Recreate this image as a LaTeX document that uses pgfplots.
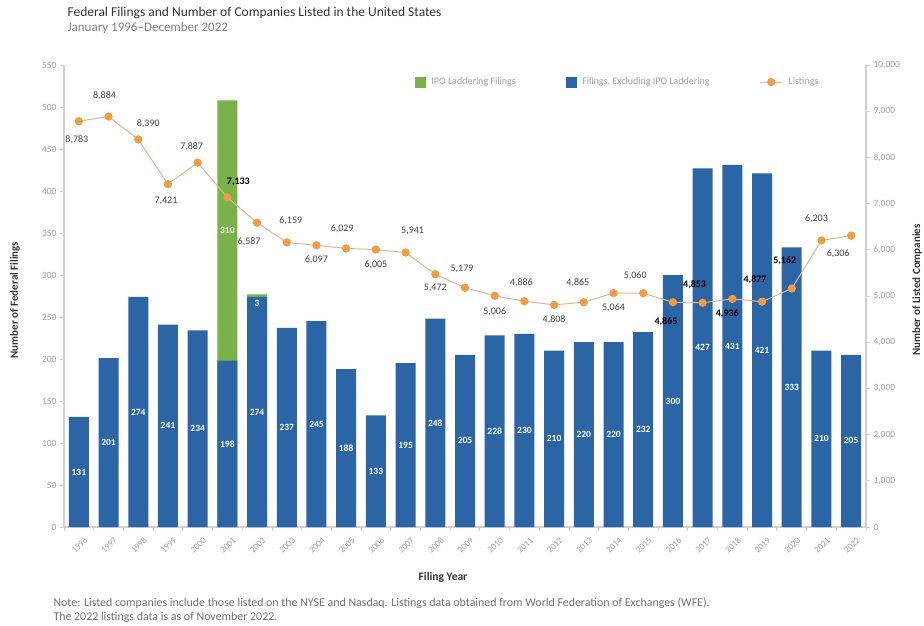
\documentclass[border=0pt]{standalone}
\usepackage{pgfplots}
\pgfplotsset{compat=1.18}
\usepackage{pgfplotstable}
\usepackage{fontspec}
\setmainfont{Carlito}
\definecolor{barblue}{HTML}{2C65A5}
\definecolor{bargreen}{HTML}{7AB24A}
\definecolor{dotorange}{HTML}{F49A42}
\definecolor{linetan}{HTML}{D9B896}
\definecolor{axisgray}{HTML}{D0D0D0}
\definecolor{tickgray}{HTML}{A0A0A0}
\definecolor{labgray}{HTML}{404040}
\definecolor{darktext}{HTML}{333333}

% filings excluding IPO laddering
\pgfplotstableread{
i blue
0 131
1 201
2 274
3 241
4 234
5 198
6 274
7 237
8 245
9 188
10 133
11 195
12 248
13 205
14 228
15 230
16 210
17 220
18 220
19 232
20 300
21 427
22 431
23 421
24 333
25 210
26 205
}\filings

% IPO laddering filings (top = total, g = laddering count)
\pgfplotstableread{
i total g
5 508 310
6 277 3
}\ladder

\pgfplotstableread{
i L dx dy
0 8783 -2 -18
1 8884 -4 21
2 8390 10 16
3 7421 -2 -17
4 7887 -6 16
6 6587 -8 -19
7 6159 4 22
8 6097 0 -14
9 6029 -4 20
10 6005 0 -15
11 5941 7 22
12 5472 0 -14
13 5179 -3 19
14 5006 0 -16
15 4886 -3 19
16 4808 0 -15
17 4865 -6 20
18 5064 0 -15
19 5060 -8 17
25 6203 -5 22
26 6306 -13 -18
}\lblnormal

\pgfplotstableread{
i L dx dy
5 7133 11 16
20 4865 -7 -19
21 4853 -8 18
22 4936 -5 -15
23 4877 -7 22
24 5162 -7 28
}\lblbold

\pgfplotstableread{
i L
0 8783
1 8884
2 8390
3 7421
4 7887
5 7133
6 6587
7 6159
8 6097
9 6029
10 6005
11 5941
12 5472
13 5179
14 5006
15 4886
16 4808
17 4865
18 5064
19 5060
20 4865
21 4853
22 4936
23 4877
24 5162
25 6203
26 6306
}\listings

\begin{document}
\begin{tikzpicture}
\useasboundingbox (0,0) rectangle (924pt,625pt);
\fill[white] (0,0) rectangle (924pt,625pt);

\begin{axis}[
  at={(64pt,98pt)}, anchor=south west,
  scale only axis, width=802pt, height=462pt,
  xmin=-0.5, xmax=26.5, ymin=0, ymax=550,
  ybar, bar width=20pt,
  axis y line*=left, axis x line*=bottom,
  axis line style={draw=axisgray, line width=1.5pt},
  ytick={0,50,...,550},
  tick align=outside,
  major tick length=4pt, minor tick length=4pt,
  xtick={0,...,26},
  xticklabels={1996,1997,1998,1999,2000,2001,2002,2003,2004,2005,2006,2007,2008,2009,2010,2011,2012,2013,2014,2015,2016,2017,2018,2019,2020,2021,2022},
  minor xtick={-0.5,0.5,...,26.5},
  major x tick style={draw=none},
  minor x tick style={draw=axisgray, line width=0.8pt},
  ytick style={draw=axisgray, line width=0.8pt},
  x tick label style={rotate=45, anchor=north east, font=\fontsize{9}{10}\selectfont, text=tickgray, xshift=3pt, yshift=-4pt},
  y tick label style={font=\fontsize{9.5}{10}\selectfont, text=tickgray},
  /pgf/number format/assume math mode=true,
  clip=false,
]
\addplot[fill=bargreen, draw=none, bar shift=0pt,
  point meta=explicit,
  visualization depends on={\thisrow{g}\as\grv},
  nodes near coords,
  every node near coord/.append style={anchor=center, yshift={-max(0.42*\grv,9)}, text=white, font=\bfseries\fontsize{9.5}{10}\selectfont}
] table[x=i,y=total,meta=g]{\ladder};
\addplot[fill=barblue, draw=none, bar shift=0pt,
  point meta=explicit,
  visualization depends on={\thisrow{blue}\as\barv},
  nodes near coords,
  every node near coord/.append style={anchor=center, yshift={-0.42*\barv}, text=white, font=\bfseries\fontsize{9.5}{10}\selectfont}
] table[x=i,y=blue,meta=blue]{\filings};
\end{axis}

\begin{axis}[
  at={(64pt,98pt)}, anchor=south west,
  scale only axis, width=802pt, height=462pt,
  xmin=-0.5, xmax=26.5, ymin=0, ymax=10000,
  axis y line*=right, axis x line=none,
  axis line style={draw=axisgray, line width=1.5pt},
  ytick={0,1000,...,10000},
  scaled y ticks=false,
  tick align=outside, major tick length=4pt,
  ytick style={draw=axisgray, line width=0.8pt},
  y tick label style={font=\fontsize{9.5}{10}\selectfont, text=tickgray, /pgf/number format/1000 sep={,}},
  /pgf/number format/assume math mode=true,
  clip=false,
  legend style={at={(axis description cs:0.4375,0.963)}, anchor=west, draw=none, fill=none,
    inner sep=0pt, font=\fontsize{10}{11}\selectfont, text=tickgray,
    legend columns=3,
    /tikz/every even column/.append style={column sep=48pt},
    /tikz/every odd column/.append style={column sep=4pt}},
]
\addlegendimage{legend image code/.code={\fill[bargreen] (0pt,-5pt) rectangle (10pt,5pt);}}
\addlegendentry{IPO Laddering Filings}
\addlegendimage{legend image code/.code={\fill[barblue] (0pt,-5pt) rectangle (10pt,5pt);}}
\addlegendentry{Filings, Excluding IPO Laddering\hspace{38pt}}
\addplot[color=linetan, line width=1pt, mark=*, mark size=3.6pt,
  mark options={fill=dotorange, draw=dotorange},
  legend image code/.code={\draw[linetan, line width=1pt] (0pt,0pt) -- (22pt,0pt); \fill[dotorange] (11pt,0pt) circle (3.6pt);}]
  table[x=i,y=L]{\listings};
\addlegendentry{Listings}
\addplot[draw=none, mark=none, forget plot,
  point meta=explicit,
  visualization depends on={\thisrow{dx}\as\lbldx},
  visualization depends on={\thisrow{dy}\as\lbldy},
  nodes near coords={\pgfmathprintnumber[assume math mode=true,1000 sep={,}]{\pgfplotspointmeta}},
  every node near coord/.append style={anchor=center, xshift=\lbldx pt, yshift=\lbldy pt, font=\fontsize{10}{11}\selectfont, text=labgray}
] table[x=i,y=L,meta=L]{\lblnormal};
\addplot[draw=none, mark=none, forget plot,
  point meta=explicit,
  visualization depends on={\thisrow{dx}\as\lbldx},
  visualization depends on={\thisrow{dy}\as\lbldy},
  nodes near coords={\pgfmathprintnumber[assume math mode=true,1000 sep={,}]{\pgfplotspointmeta}},
  every node near coord/.append style={anchor=center, xshift=\lbldx pt, yshift=\lbldy pt, font=\bfseries\fontsize{10}{11}\selectfont, text=black}
] table[x=i,y=L,meta=L]{\lblbold};
\end{axis}

\node[anchor=west, font=\fontsize{13.5}{15}\selectfont, text=darktext] at (64pt,612pt) {Federal Filings and Number of Companies Listed in the United States};
\node[anchor=west, font=\fontsize{13}{15}\selectfont, text=tickgray!80!black] at (64pt,597pt) {January 1996--December 2022};
\node[rotate=90, font=\bfseries\fontsize{11}{12}\selectfont, text=darktext] at (15pt,325pt) {Number of Federal Filings};
\node[rotate=90, font=\bfseries\fontsize{11}{12}\selectfont, text=darktext] at (917pt,335pt) {Number of Listed Companies};
\node[font=\bfseries\fontsize{11.5}{12}\selectfont, text=darktext] at (443pt,48pt) {Filing Year};
\node[anchor=west, font=\fontsize{11.9}{13}\selectfont, text=tickgray!70!black] at (50pt,22pt) {Note: Listed companies include those listed on the NYSE and Nasdaq. Listings data obtained from World Federation of Exchanges (WFE).};
\node[anchor=west, font=\fontsize{11.9}{13}\selectfont, text=tickgray!70!black] at (50pt,8pt) {The 2022 listings data is as of November 2022.};
\end{tikzpicture}
\end{document}
